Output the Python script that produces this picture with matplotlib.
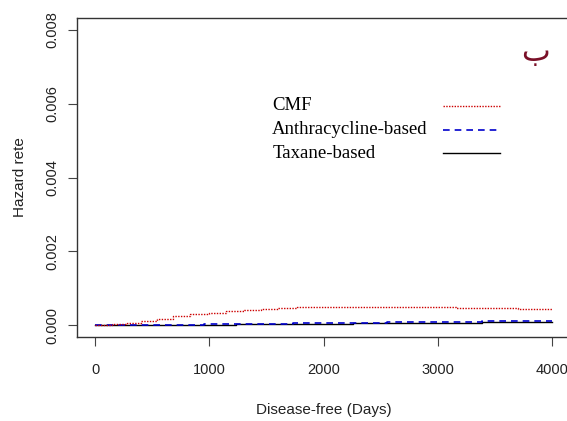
import matplotlib
matplotlib.use("Agg")
import matplotlib.pyplot as plt

# CMF hazard (step curve)
cmf_days = [0, 150, 280, 400, 540, 680, 830, 1000, 1150, 1300, 1450, 1600, 1765, 3165, 3705, 4000]
cmf_haz = [0.0, 0.00002, 0.00006, 0.00011, 0.00017, 0.00024, 0.00030, 0.00034, 0.00038, 0.00041, 0.00044, 0.00047, 0.00050, 0.00046, 0.00043, 0.00043]

# Anthracycline-based
anth_days = [0, 950, 1230, 1735, 2260, 2560, 3390, 4000]
anth_haz = [0.0, 0.00002, 0.00002, 0.00005, 0.00006, 0.00008, 0.00010, 0.00010]

# Taxane-based
tax_days = [0, 950, 1230, 1735, 2260, 2560, 3390, 4000]
tax_haz = [0.0, 0.000015, 0.00002, 0.000045, 0.00006, 0.00007, 0.00009, 0.00009]

x_ticks = [0, 1000, 2000, 3000, 4000]
y_ticks = [0.000, 0.002, 0.004, 0.006, 0.008]
y_tick_labels = ["0.000", "0.002", "0.004", "0.006", "0.008"]

plt.rcParams['font.family'] = ['Liberation Sans', 'DejaVu Sans']

fig = plt.figure(figsize=(5.67, 4.21), dpi=100)
ax = fig.add_axes([77 / 567, (421 - 337) / 421, (570 - 77) / 567, (337 - 18) / 421])

ax.step(tax_days, tax_haz, where="post", color="black", lw=1.0)
ax.step(anth_days, anth_haz, where="post", color="#0000cc", lw=1.2, ls=(0, (4, 3)))
ax.step(cmf_days, cmf_haz, where="post", color="#cc0000", lw=1.0, ls=(0, (1, 1)))

ax.set_xlim(-160, 4160)
ax.set_ylim(-0.00032, 0.00832)
ax.set_xticks(x_ticks)
ax.set_yticks(y_ticks)
ax.set_yticklabels(y_tick_labels, rotation=90, va="center")
ax.tick_params(direction="out", length=6.5, width=0.8, labelsize=10.5, colors="#444444", labelcolor="#222222")
ax.tick_params(axis="x", pad=12)
ax.tick_params(axis="y", pad=6)
for s in ax.spines.values():
    s.set_linewidth(1.0)
    s.set_color("#333333")

ax.set_xlabel("Disease-free (Days)", fontsize=11, color="#222222")
ax.xaxis.label.set_va("center")
ax.xaxis.set_label_coords(0.5, -73 / 319)
ax.set_ylabel("Hazard rete", fontsize=11, color="#222222")
ax.yaxis.label.set_va("center")
ax.yaxis.set_label_coords(-57 / 493, 0.5)

# legend drawn manually in serif
serif = ['Liberation Serif', 'DejaVu Serif']
leg_labels = ["CMF", "Anthracycline-based", "Taxane-based"]
leg_styles = [dict(color="#cc0000", lw=1.0, ls=(0, (1, 1))),
              dict(color="#0000cc", lw=1.2, ls=(0, (4, 3))),
              dict(color="black", lw=1.0, ls="-")]
leg_y = [0.00594, 0.00529, 0.00466]
for lab, st, yy in zip(leg_labels, leg_styles, leg_y):
    ax.text(1550, yy, lab, fontsize=13.5, family=serif, va="center", ha="left")
    ax.plot([3050, 3550], [yy, yy], **st)

ax.text(3860, 0.00738, "ب", fontsize=22, color="#7a1028", family=['DejaVu Sans'], ha="center", va="center")

fig.savefig("out.png", dpi=100)
